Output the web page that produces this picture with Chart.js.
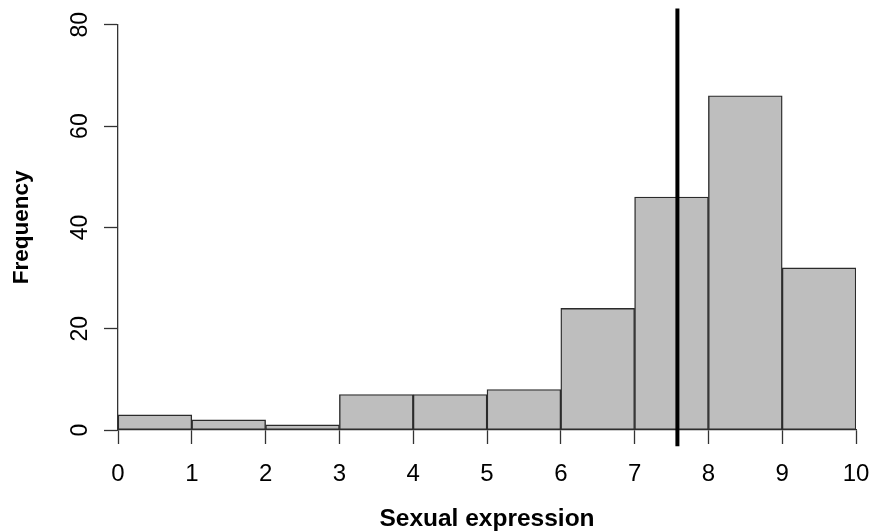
<!DOCTYPE html>
<html>
<head>
<meta charset="utf-8">
<script src="https://cdn.jsdelivr.net/npm/chart.js@4/dist/chart.umd.min.js"></script>
<style>
  html, body { margin: 0; padding: 0; background: #fff; }
  #wrap { width: 872px; height: 531px; }
</style>
</head>
<body>
<div id="wrap"><canvas id="histChart" width="872" height="531"></canvas></div>
<script>
// histogram bins (lower edge, width 1) and counts
const binStarts = [0, 1, 2, 3, 4, 5, 6, 7, 8, 9];
const binWidth = 1;
const frequencies = [3, 2, 1, 7, 7, 8, 24, 46, 66, 32];
// position of the thick vertical line (mean) and its vertical reach
const meanValue = 7.58;
const meanLineSpan = [-3.2, 83.2];
const xTicks = [0, 1, 2, 3, 4, 5, 6, 7, 8, 9, 10];
const yTicks = [0, 20, 40, 60, 80];

const FONT = "'Liberation Sans', Arial, Helvetica, sans-serif";

window.addEventListener("DOMContentLoaded", () => {
  const ctx = document.getElementById("histChart").getContext("2d");

  const bars = binStarts.map((b, i) => ({ x: b + binWidth / 2, y: frequencies[i] }));
  const meanLine = meanLineSpan.map(v => ({ x: meanValue, y: v }));

  new Chart(ctx, {
    data: {
      datasets: [
        {
          type: "bar",
          data: bars,
          backgroundColor: "#bebebe",
          borderColor: "#2b2b2b",
          borderWidth: 1.4,
          borderSkipped: false,
          barPercentage: 1,
          categoryPercentage: 1,
          order: 2,
        },
        {
          type: "line",
          data: meanLine,
          borderColor: "#000000",
          borderWidth: 4,
          pointRadius: 0,
          clip: false,
          order: 1,
        },
      ],
    },
    options: {
      responsive: false,
      animation: false,
      layout: { padding: { left: 0, right: 16, top: 18, bottom: 0 } },
      plugins: {
        legend: { display: false },
        tooltip: { enabled: false },
      },
      scales: {
        x: {
          type: "linear",
          offset: false,
          min: xTicks[0],
          max: xTicks[xTicks.length - 1],
          afterBuildTicks: (scale) => { scale.ticks = xTicks.map(v => ({ value: v })); },
          afterFit: (scale) => {
            scale.height = 101;
            scale.paddingLeft = 0;
            scale.paddingRight = 0;
          },
          grid: {
            offset: false,
            drawOnChartArea: false,
            drawTicks: true,
            tickLength: 14,
            tickColor: "#333333",
            tickWidth: 1.3,
          },
          border: { display: true, color: "#333333", width: 1.3 },
          ticks: {
            color: "#000",
            padding: 16,
            maxRotation: 0,
            minRotation: 0,
            font: { family: FONT, size: 24 },
          },
          title: {
            display: true,
            text: "Sexual expression",
            color: "#000",
            padding: { top: 0, bottom: 0 },
            font: { family: FONT, size: 24.5, weight: "bold", lineHeight: 1.0 },
          },
        },
        y: {
          type: "linear",
          min: yTicks[0],
          max: yTicks[yTicks.length - 1],
          afterBuildTicks: (scale) => { scale.ticks = yTicks.map(v => ({ value: v })); },
          afterFit: (scale) => { scale.width = 118; },
          grid: {
            drawOnChartArea: false,
            drawTicks: true,
            tickLength: 14,
            tickColor: "#333333",
            tickWidth: 1.3,
          },
          border: { display: true, color: "#333333", width: 1.3 },
          ticks: {
            color: "#000",
            padding: 11,
            minRotation: 90,
            maxRotation: 90,
            crossAlign: "center",
            font: { family: FONT, size: 23 },
          },
          title: {
            display: true,
            text: "Frequency",
            color: "#000",
            padding: { top: 8, bottom: 0 },
            font: { family: FONT, size: 22.5, weight: "bold" },
          },
        },
      },
    },
  });
});
</script>
</body>
</html>
